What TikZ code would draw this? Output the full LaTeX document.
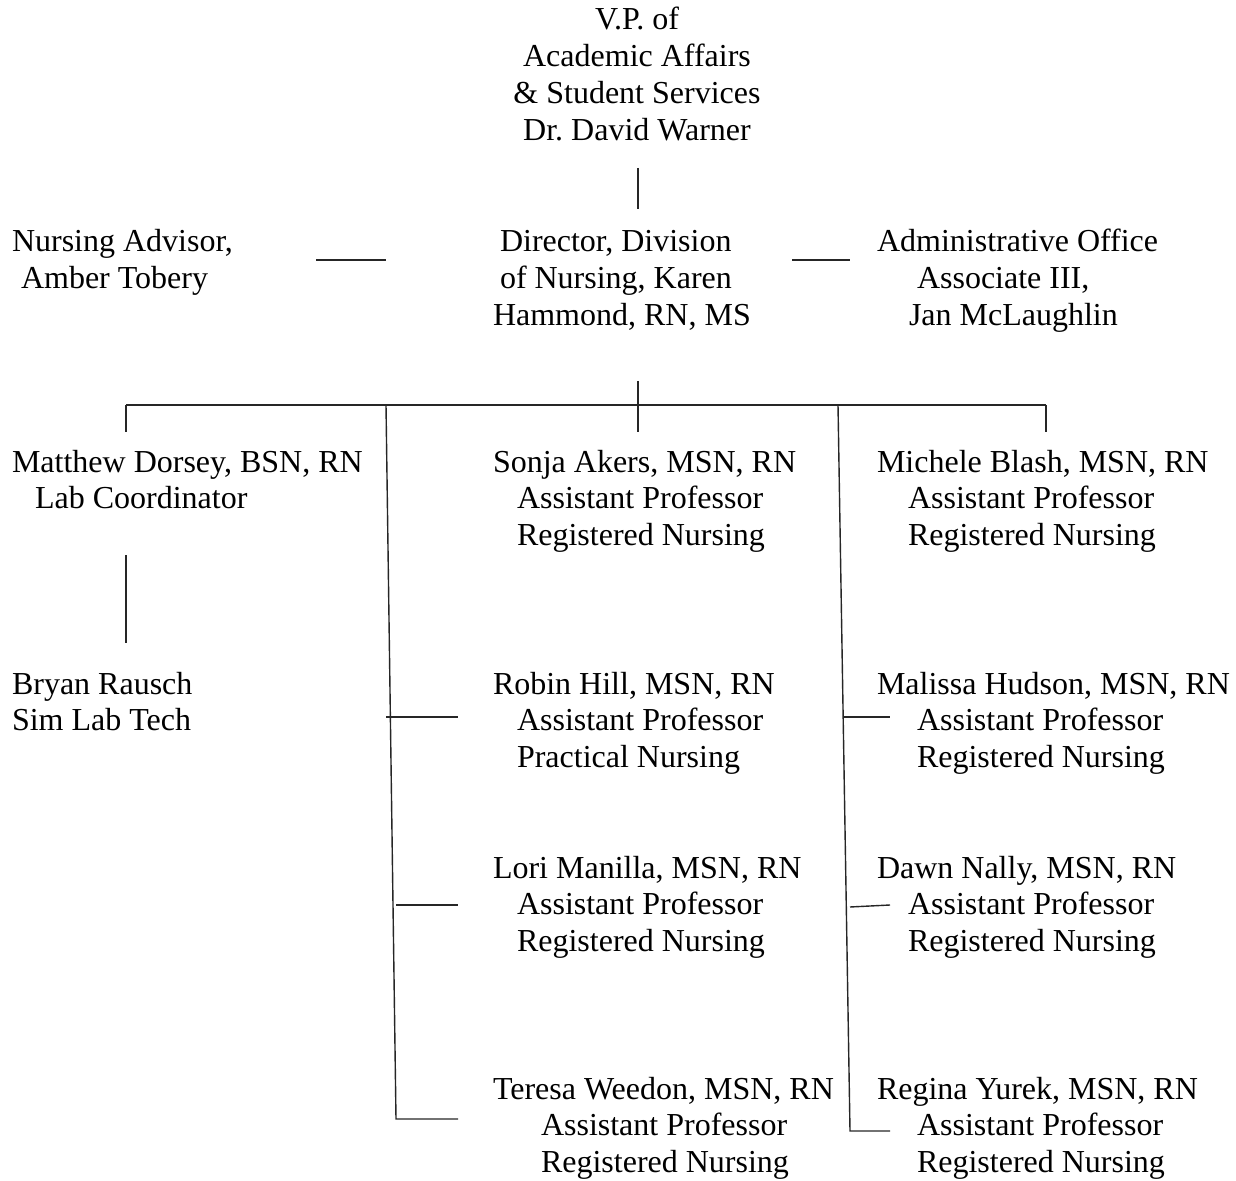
\documentclass[tikz,border=0pt]{standalone}
\usepackage{fontspec}
\setmainfont{Liberation Serif}
\begin{document}
\begin{tikzpicture}[x=0.5pt,y=-0.5pt,
  lbl/.style={anchor=base west,inner sep=0pt,outer sep=0pt,align=left,font=\fontsize{16pt}{18.35pt}\selectfont\frenchspacing},
  ctr/.style={lbl,anchor=base,align=center},
  conn/.style={draw=black!85,line width=0.7pt}]
\useasboundingbox (0,0) rectangle (1236,1181);

% ---- text blocks (placed at the baseline of their last line) ----
\node[ctr] (vp) at (637,140.1) {V.P. of\\Academic Affairs\\\& Student Services\\Dr. David Warner};
\node[lbl] (adv) at (12,288.4) {Nursing Advisor,\\\hspace*{4.5pt}Amber Tobery};
\node[lbl] (dir) at (493,325.1) {\hspace*{3.5pt}Director, Division\\\hspace*{3.5pt}of Nursing, Karen\\Hammond, RN, MS};
\node[lbl] (adm) at (877,325.4) {Administrative Office\\\hspace*{20pt}Associate III,\\\hspace*{16pt}Jan McLaughlin};

\node[lbl] (dorsey) at (12,508.7) {Matthew Dorsey, BSN, RN\\\hspace*{11.5pt}Lab Coordinator};
\node[lbl] (akers) at (493,545.4) {Sonja Akers, MSN, RN\\\hspace*{12pt}Assistant Professor\\\hspace*{12pt}Registered Nursing};
\node[lbl] (blash) at (877,545.4) {Michele Blash, MSN, RN\\\hspace*{15.5pt}Assistant Professor\\\hspace*{15.5pt}Registered Nursing};

\node[lbl] (rausch) at (12,730.7) {Bryan Rausch\\Sim Lab Tech};
\node[lbl] (hill) at (493,767.4) {Robin Hill, MSN, RN\\\hspace*{12pt}Assistant Professor\\\hspace*{12pt}Practical Nursing};
\node[lbl] (hudson) at (877,767.4) {Malissa Hudson, MSN, RN\\\hspace*{20pt}Assistant Professor\\\hspace*{20pt}Registered Nursing};

\node[lbl] (manilla) at (493,951.4) {Lori Manilla, MSN, RN\\\hspace*{12pt}Assistant Professor\\\hspace*{12pt}Registered Nursing};
\node[lbl] (nally) at (877,951.4) {Dawn Nally, MSN, RN\\\hspace*{15.5pt}Assistant Professor\\\hspace*{15.5pt}Registered Nursing};

\node[lbl] (weedon) at (493,1172.4) {Teresa Weedon, MSN, RN\\\hspace*{24pt}Assistant Professor\\\hspace*{24pt}Registered Nursing};
\node[lbl] (yurek) at (877,1172.4) {Regina Yurek, MSN, RN\\\hspace*{20pt}Assistant Professor\\\hspace*{20pt}Registered Nursing};

% ---- connector end points ----
\coordinate (vpS) at (638,168);   \coordinate (dirN) at (638,209);
\coordinate (advE) at (316,260);  \coordinate (dirW) at (386,260);
\coordinate (dirE) at (792,260);  \coordinate (admW) at (850,260);
\coordinate (dirS) at (638,381);  \coordinate (akersN) at (638,432);
\coordinate (barL) at (126,405);  \coordinate (barR) at (1046,405);
\coordinate (dorseyN) at (126,432); \coordinate (blashN) at (1046,432);
\coordinate (lvTop) at (386,405); \coordinate (lvBot) at (396,1119);
\coordinate (rvTop) at (838,405); \coordinate (rvBot) at (850,1131);
\coordinate (dorseyS) at (126,555); \coordinate (rauschN) at (126,643);
\coordinate (hillJ) at (386,717);   \coordinate (hillW) at (458,717);
\coordinate (manillaJ) at (396,905); \coordinate (manillaW) at (458,905);
\coordinate (weedonW) at (458,1119);
\coordinate (hudsonJ) at (843,717); \coordinate (hudsonW) at (890,717);
\coordinate (nallyJ) at (850,907);  \coordinate (nallyW) at (890,905);
\coordinate (yurekW) at (890,1131);

% ---- connectors ----
\draw[conn] (vpS) -- (dirN);
\draw[conn] (advE) -- (dirW);
\draw[conn] (dirE) -- (admW);
\draw[conn] (dirS) -- (akersN);
\draw[conn] (barL) -- (barR);
\draw[conn] (barL) -- (dorseyN);
\draw[conn] (barR) -- (blashN);
\draw[conn] (lvTop) -- (lvBot) -- (weedonW);
\draw[conn] (rvTop) -- (rvBot) -- (yurekW);
\draw[conn] (dorseyS) -- (rauschN);
\draw[conn] (hillJ) -- (hillW);
\draw[conn] (manillaJ) -- (manillaW);
\draw[conn] (hudsonJ) -- (hudsonW);
\draw[conn] (nallyJ) -- (nallyW);
\end{tikzpicture}
\end{document}
